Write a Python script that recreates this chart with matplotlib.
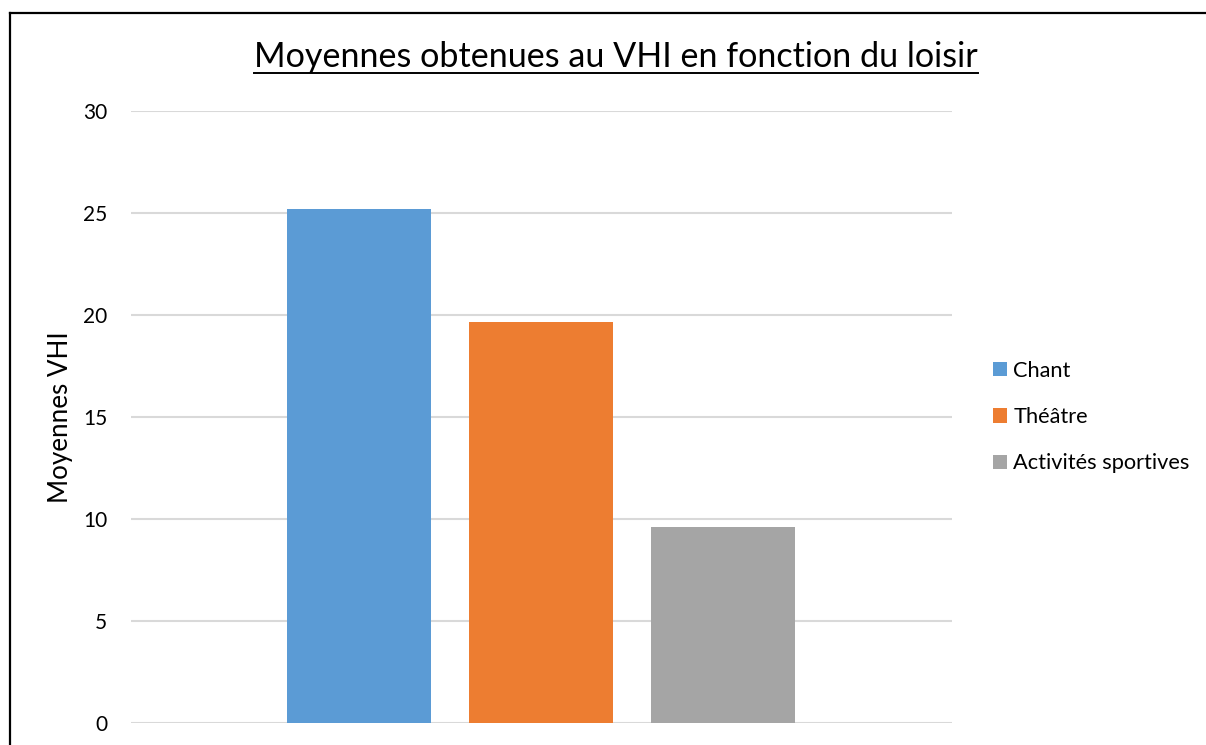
import matplotlib
matplotlib.use('Agg')
from matplotlib import pyplot as plt
from matplotlib.lines import Line2D

plt.rcParams['font.family'] = ['Lato', 'DejaVu Sans']

# donnees
loisirs = ['Chant', 'Théâtre', 'Activités sportives']
moyennes = [25.2, 19.66, 9.6]
couleurs = ['#5B9BD5', '#ED7D31', '#A5A5A5']
yticks = [0, 5, 10, 15, 20, 25, 30]

fig = plt.figure(figsize=(12.06, 7.45), dpi=100)
ax = fig.add_axes([0.1086, 0.0291, 0.6808, 0.8219])

x = list(range(len(loisirs)))
bars = ax.bar(x, moyennes, width=0.79, color=couleurs, label=loisirs, zorder=3)

ax.set_xlim(-1.253, 3.258)
ax.set_ylim(0, 30)
ax.set_yticks(yticks)
ax.set_xticks([])
ax.tick_params(axis='y', length=0, labelsize=15, pad=17)
ax.grid(axis='y', color='#D9D9D9', linewidth=1.5, zorder=0)
for s in ax.spines.values():
    s.set_visible(False)
ax.set_ylabel('Moyennes VHI', fontsize=18.7, labelpad=7)

leg = ax.legend(loc='center left', bbox_to_anchor=(1.026, 0.5), frameon=False,
                fontsize=15.7, handlelength=0.63, handleheight=0.63,
                handletextpad=0.3, labelspacing=1.2)

# titre souligne
t = fig.text(0.511, 0.91, 'Moyennes obtenues au VHI en fonction du loisir',
             ha='center', va='baseline', fontsize=24.6)
fig.canvas.draw()
bb = t.get_window_extent()
inv = fig.transFigure.inverted()
(x0, y0), (x1, y1) = inv.transform([[bb.x0, bb.y0], [bb.x1, bb.y1]])
yl = 1 - 72.5 / 745
fig.add_artist(Line2D([x0, x1], [yl, yl], color='black', linewidth=1.4,
                      transform=fig.transFigure))

# cadre
fig.add_artist(Line2D([10 / 1206, 10 / 1206], [0, 1 - 12.5 / 745], color='black',
                      linewidth=1.6, transform=fig.transFigure))
fig.add_artist(Line2D([10 / 1206, 1], [1 - 12.5 / 745, 1 - 12.5 / 745], color='black',
                      linewidth=1.6, transform=fig.transFigure))

plt.savefig('out.png', dpi=100)
